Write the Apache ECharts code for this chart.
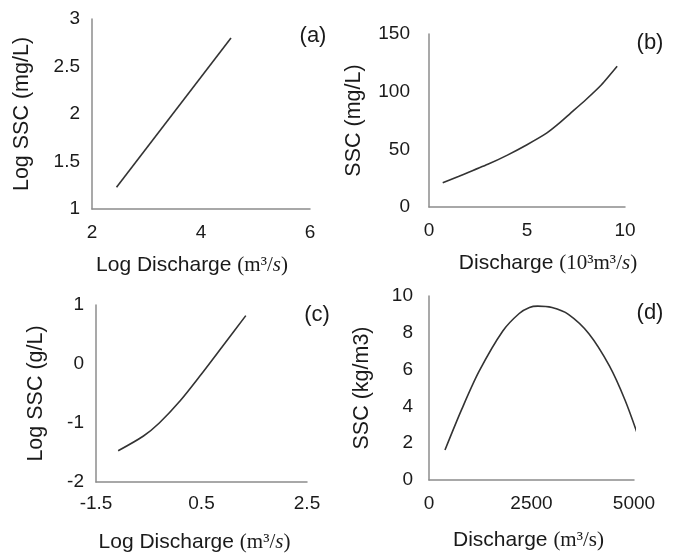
<!DOCTYPE html>
<html>
<head>
<meta charset="utf-8">
<script src="https://cdn.jsdelivr.net/npm/echarts@6/dist/echarts.min.js"></script>
<style>
  html, body { margin: 0; padding: 0; background: #fff; }
  #chart { width: 673px; height: 557px; }
</style>
</head>
<body>
<div id="chart"></div>
<script>
// ── Data ────────────────────────────────────────────────────────────
// (a) log SSC vs log discharge
const aDischarge = [2.45, 4.55];
const aSSC       = [1.23, 2.8];
// (b) SSC vs discharge (10^3 m3/s)
const bDischarge = [0.7, 1.5, 3, 4, 5, 6, 6.6, 7.2, 8, 8.8, 9.6];
const bSSC       = [21, 26.5, 37, 45, 54, 64, 72, 81, 93, 106, 122];
// (c) log SSC vs log discharge
const cDischarge = [-1.08, -0.6, -0.3, 0.1, 0.5, 0.9, 1.34];
const cSSC       = [-1.47, -1.22, -1.0, -0.62, -0.17, 0.3, 0.82];
// (d) SSC vs discharge (m3/s)
const dDischarge = [390, 800, 1220, 1800, 2200, 2450, 2650, 3000, 3400, 3900, 4400, 4780, 5100];
const dSSC       = [1.63, 3.85, 5.9, 8.1, 9.05, 9.38, 9.45, 9.37, 9.0, 7.95, 6.2, 4.35, 2.4];

const panelLabels = ['(a)', '(b)', '(c)', '(d)'];

// ── Style ───────────────────────────────────────────────────────────
const sans = 'Liberation Sans, Arial, sans-serif';
const serif = 'Liberation Serif, Times New Roman, serif';
const textColor = '#1a1a1a';
const axisColor = '#8c8c8c';
const lineColor = '#333';
const tickFont = 19;
const xNameFont = 21;
const yNameFont = 21.5;

const pair = (xs, ys) => xs.map((x, i) => [x, ys[i]]);

const nameRich = {
  t: { fontFamily: sans, fontSize: xNameFont, color: textColor },
  u: { fontFamily: serif, fontSize: xNameFont, color: textColor },
  i: { fontFamily: serif, fontSize: xNameFont, color: textColor, fontStyle: 'italic' },
};

function xAxis(idx, min, max, interval, name, gap, margin, pad) {
  return {
    type: 'value', gridIndex: idx, min, max, interval,
    name, nameLocation: 'middle', nameGap: gap,
    nameTextStyle: { rich: nameRich, padding: pad || 0 },
    axisLine: { onZero: false, lineStyle: { color: axisColor, width: 1.5 } },
    axisTick: { show: false },
    splitLine: { show: false },
    axisLabel: { fontFamily: sans, fontSize: tickFont, color: textColor, margin,
                 formatter: (v) => String(v) },
  };
}
function yAxis(idx, min, max, interval, name, gap, margin) {
  return {
    type: 'value', gridIndex: idx, min, max, interval,
    name, nameLocation: 'middle', nameGap: gap,
    nameTextStyle: { fontFamily: sans, fontSize: yNameFont, color: textColor },
    axisLine: { show: true, onZero: false, lineStyle: { color: axisColor, width: 1.5 } },
    axisTick: { show: false },
    splitLine: { show: false },
    axisLabel: { fontFamily: sans, fontSize: tickFont, color: textColor, margin },
  };
}
function line(idx, data, smooth) {
  return {
    type: 'line', xAxisIndex: idx, yAxisIndex: idx, data,
    smooth, showSymbol: false, clip: false,
    lineStyle: { color: lineColor, width: 1.6 },
  };
}

const chart = echarts.init(document.getElementById('chart'), null, { renderer: 'canvas' });
chart.setOption({
  animation: false,
  backgroundColor: '#fff',
  grid: [
    { left: 92,  top: 19,  width: 218, height: 190 },
    { left: 429, top: 34,  width: 196, height: 173 },
    { left: 96,  top: 305, width: 211, height: 177 },
    { left: 429, top: 296, width: 205, height: 184 },
  ],
  xAxis: [
    xAxis(0, 2, 6, 2, '{t|Log Discharge }{u|(m³/}{i|s}{u|)}', 46, 14, [0, 18, 0, 0]),
    xAxis(1, 0, 10, 5, '{t|Discharge }{u|(10³m³/}{i|s}{u|)}', 46, 14, [0, 0, 0, 42]),
    xAxis(2, -1.5, 2.5, 2, '{t|Log Discharge }{u|(m³/}{i|s}{u|)}', 50, 12, [0, 14, 0, 0]),
    xAxis(3, 0, 5000, 2500, '{t|Discharge }{u|(m³/s)}', 50, 14, [0, 6, 0, 0]),
  ],
  yAxis: [
    yAxis(0, 1, 3, 0.5, 'Log SSC (mg/L)', 59, 12),
    yAxis(1, 0, 150, 50, 'SSC (mg/L)', 64, 19),
    yAxis(2, -2, 1, 1, 'Log SSC (g/L)', 49, 12),
    yAxis(3, 0, 10, 2, 'SSC (kg/m3)', 56, 16),
  ],
  series: [
    line(0, pair(aDischarge, aSSC), false),
    line(1, pair(bDischarge, bSSC), 0.2),
    line(2, pair(cDischarge, cSSC), 0.3),
    line(3, pair(dDischarge, dSSC), 0.3),
  ],
  graphic: panelLabels.map((t, i) => ({
    type: 'text',
    x: [313, 650, 317, 650][i],
    y: [36, 43, 315, 313][i],
    style: {
      text: t, fontFamily: sans, fontSize: 22, fill: textColor,
      align: 'center', verticalAlign: 'middle',
    },
  })),
});
</script>
</body>
</html>
